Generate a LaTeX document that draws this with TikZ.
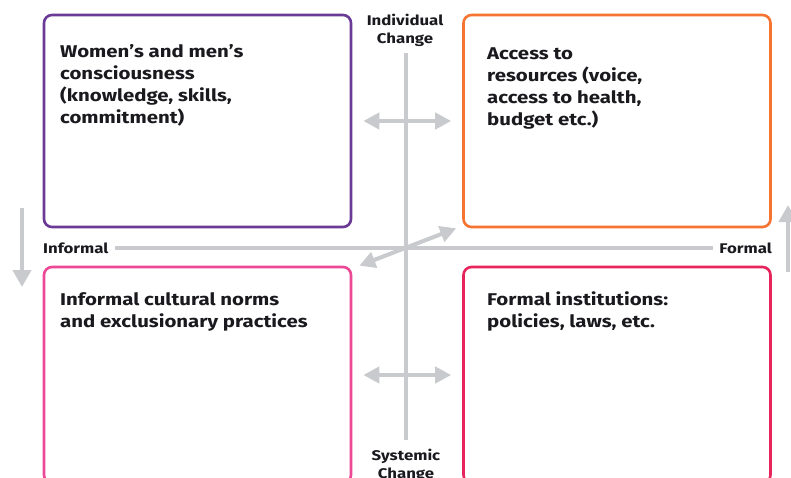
\documentclass[tikz,border=0pt]{standalone}
\usepackage{fontspec}
\setmainfont{Fira Sans}[FakeStretch=1.2]
\usetikzlibrary{arrows.meta}
\definecolor{axisgray}{RGB}{200,202,205}
\definecolor{cpurple}{RGB}{106,58,150}
\definecolor{corange}{RGB}{246,116,50}
\definecolor{cpink}{RGB}{236,72,150}
\definecolor{ccrimson}{RGB}{232,36,92}
\definecolor{ink}{RGB}{25,25,30}
\tikzset{
  quadbox/.style={draw, line width=2.6pt, rounded corners=8pt, fill=white,
    inner sep=0pt, minimum width=307pt},
  boxtext/.style={anchor=north west, inner sep=0pt, align=left, text=ink,
    font=\fontsize{17}{22}\selectfont\bfseries},
  axislabel/.style={inner sep=0pt, align=center, text=ink,
    font=\fontsize{14}{18}\selectfont\bfseries},
  axisline/.style={draw=axisgray, line width=4.5pt},
  grayarrow/.style={draw=axisgray, line width=4pt,
    {Triangle[length=16pt,width=16pt]}-{Triangle[length=16pt,width=16pt]}},
  sidearrow/.style={draw=axisgray, line width=4.5pt,
    -{Triangle[length=17pt,width=18pt]}}
}
\begin{document}
\begin{tikzpicture}[x=1pt,y=-1pt]
\clip (0,0) rectangle (791,477);
\fill[white] (0,0) rectangle (791,477);

% axis end points and side arrows
\coordinate (vtop) at (406,53);
\coordinate (vbot) at (406,440);
\coordinate (ldown0) at (22,208);
\coordinate (ldown1) at (22,287);
\coordinate (rup0) at (788,272);
\coordinate (rup1) at (788,205);

% axis labels
\node[axislabel] (indiv) at (405,30) {Individual\\Change};
\node[axislabel] (syst) at (406,465) {Systemic\\Change};
\node[axislabel, anchor=west] (informal) at (43,248) {Informal};
\node[axislabel, anchor=east] (formal) at (772,248) {Formal};

% axes
\draw[axisline] (vtop) -- (vbot);
\draw[axisline] ([xshift=6pt]informal.east) -- ([xshift=-6pt]formal.west);

% quadrant boxes
\node[quadbox, draw=cpurple, minimum height=212pt] (tl) at (197.5,121) {};
\node[quadbox, draw=corange, minimum height=212pt] (tr) at (617,121) {};
\node[quadbox, draw=cpink, minimum height=216pt] (bl) at (197.5,375) {};
\node[quadbox, draw=ccrimson, minimum height=216pt] (br) at (617,375) {};

% box texts
\node[boxtext] (tltext) at (60,44) {Women’s and men’s\\consciousness\\(knowledge, skills,\\commitment)};
\node[boxtext] (trtext) at (487,48) {Access to\\resources (voice,\\access to health,\\budget etc.)};
\node[boxtext] (bltext) at (60,292) {Informal cultural norms\\and exclusionary practices};
\node[boxtext] (brtext) at (487,292) {Formal institutions:\\policies, laws, etc.};

% arrows between quadrants
\draw[grayarrow] ([xshift=11pt]tl.east) -- ([xshift=-11pt]tr.west);
\draw[grayarrow] ([xshift=11pt]bl.east) -- ([xshift=-11pt]br.west);
\draw[grayarrow] ([xshift=7pt]bl.north east) -- ([xshift=-6pt]tr.south west);

% side arrows
\draw[sidearrow] (ldown0) -- (ldown1);
\draw[sidearrow] (rup0) -- (rup1);
\end{tikzpicture}
\end{document}
